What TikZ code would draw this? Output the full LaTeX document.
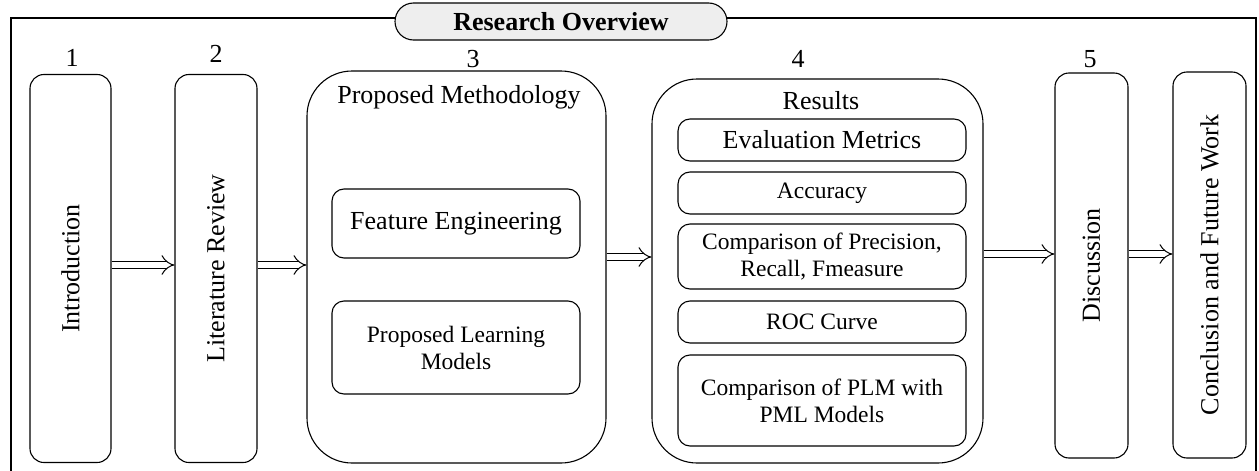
\documentclass[tikz,border=0pt]{standalone}
\usepackage{fontspec}
\setmainfont{Liberation Serif}
\usepackage{xcolor}
\usetikzlibrary{arrows.meta,calc,positioning,shapes.misc}
\definecolor{titlegray}{RGB}{238,238,238}
\newcommand{\bigtxt}{\fontsize{26}{29}\selectfont}
\newcommand{\smalltxt}{\fontsize{23.5}{27}\selectfont}
\tikzset{%
	vbox/.style     = {draw, line width=1.1pt, rectangle, rounded corners=14pt, minimum width=#1, minimum height=388pt, inner sep=0pt, font=\bigtxt},
	bigbox/.style   = {draw, line width=1.1pt, rectangle, rounded corners=45pt, inner sep=0pt},
	subbox/.style   = {draw, line width=1.1pt, rectangle, rounded corners=12pt, minimum width=#1, inner sep=0pt, align=center, font=\smalltxt},
	numlabel/.style = {font=\bigtxt, inner sep=0pt},
	dblarrow/.style = {draw=black, line width=1pt, double=white, double distance=6pt, -{Implies[length=8pt]}},
}

\begin{document}
\begin{tikzpicture}[x=1pt,y=-1pt]
		\useasboundingbox (0,0) rectangle (1259,471);
		\draw[line width=1.1pt] (11,472) |- (1256,18) -- (1256,472);
		\node[draw, line width=1.1pt, rounded rectangle, fill=titlegray, minimum width=332pt, minimum height=37pt, inner sep=0pt, font=\bigtxt\bfseries] (title) at (561,21.5) {Research Overview};
		
		\node[numlabel] (n1) at (72,58) {1};
		\node[numlabel] (n2) at (216,54) {2};
		\node[numlabel] (n3) at (473,59) {3};
		\node[numlabel] (n4) at (798,59) {4};
		\node[numlabel] (n5) at (1090,59) {5};
		
		\node[vbox=81pt] (intro) at (70.5,268.5) {\rotatebox{90}{Introduction}};
		\node[vbox=82pt] (lit) at (216,268.5) {\rotatebox{90}{Literature Review}};
		\node[vbox=73pt, minimum height=385pt] (disc) at (1091.5,265.5) {\rotatebox{90}{Discussion}};
		\node[vbox=73pt, minimum height=386pt] (concl) at (1209.5,265) {\rotatebox{90}{Conclusion and Future Work}};
		
		% proposed methodology
		\node[bigbox, minimum width=299pt, minimum height=392pt] (meth) at (456.5,267) {};
		\node[font=\bigtxt, inner sep=0pt] (methtitle) at (459,97) {Proposed Methodology};
		\node[subbox=248pt, minimum height=69pt, font=\bigtxt] (feat) at (456,223.5) {Feature Engineering};
		\node[subbox=248pt, minimum height=93pt] (learn) at (456,347.5) {Proposed Learning\\Models};
		
		% results
		\node[bigbox, minimum width=331pt, minimum height=384pt] (res) at (817.5,271) {};
		\node[font=\bigtxt, inner sep=0pt] (restitle) at (821,101) {Results};
		\node[subbox=288pt, minimum height=42pt, font=\bigtxt] (eval) at (822,140) {Evaluation Metrics};
		\node[subbox=288pt, minimum height=42pt] (acc) at (822,193) {Accuracy};
		\node[subbox=288pt, minimum height=65pt] (prec) at (822,256.5) {Comparison of Precision,\\Recall, Fmeasure};
		\node[subbox=288pt, minimum height=42pt] (roc) at (822,322) {ROC Curve};
		\node[subbox=288pt, minimum height=91pt] (cmp) at (822,400.5) {Comparison of PLM with\\PML Models};
		
		\draw[dblarrow] ([yshift=3.5pt]intro.east) -- ([yshift=3.5pt]intro.east -| lit.west);
		\draw[dblarrow] ([yshift=3.5pt]lit.east) -- ([yshift=3.5pt]lit.east -| meth.west);
		\draw[dblarrow] ([yshift=10pt]meth.east) -- ([yshift=10pt]meth.east -| res.west);
		\draw[dblarrow] ([yshift=17pt]res.east) -- ([yshift=17pt]res.east -| disc.west);
		\draw[dblarrow] ([yshift=11.5pt]disc.east) -- ([yshift=11.5pt]disc.east -| concl.west);
		
	\end{tikzpicture}
\end{document}
